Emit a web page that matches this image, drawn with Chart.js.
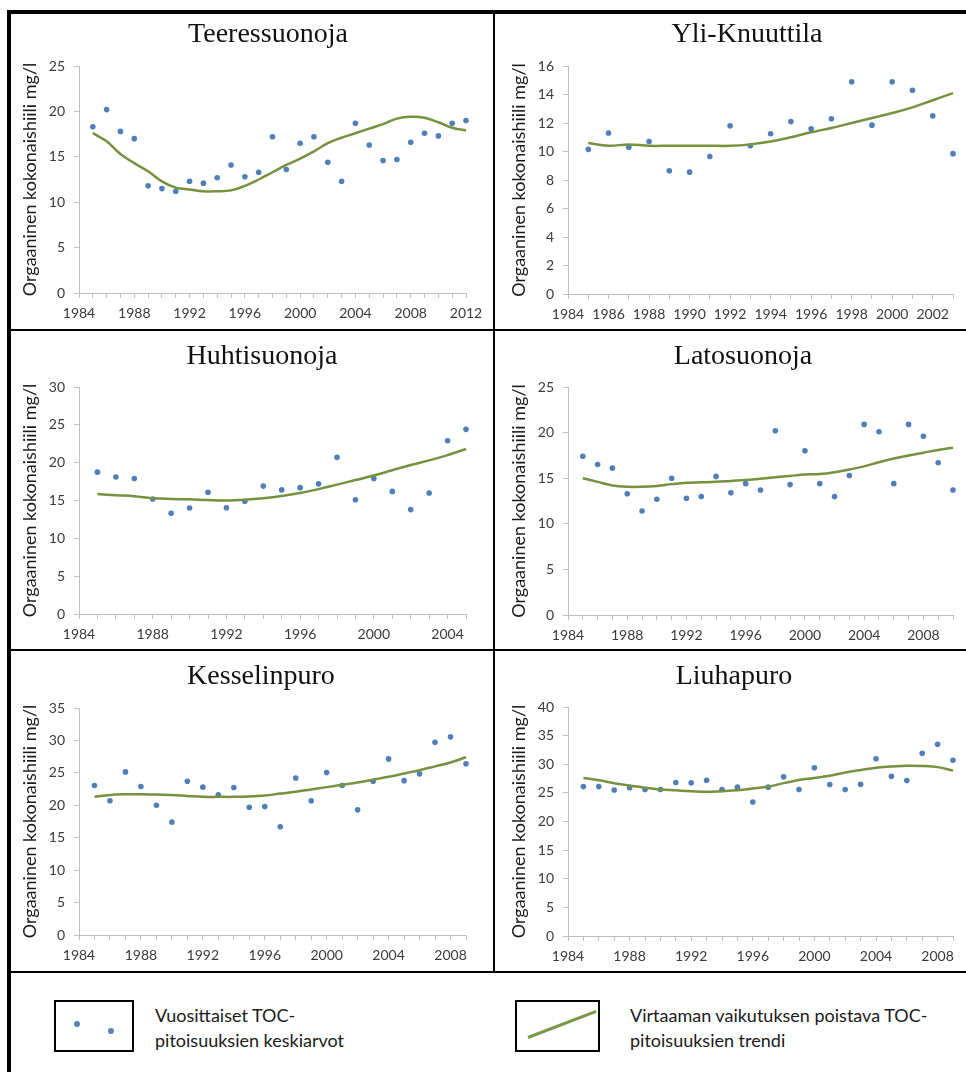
<!DOCTYPE html>
<html>
<head>
<meta charset="utf-8">
<script src="https://cdn.jsdelivr.net/npm/chart.js@4.4.0/dist/chart.umd.min.js"></script>
<style>
  body { margin: 0; background: #fff; }
  #page { position: relative; width: 966px; height: 1072px; overflow: hidden; background: #fff; font-family: Lato, "Open Sans", sans-serif; }
  canvas { position: absolute; }
  .title { position: absolute; transform: translate(-50%, -50%); white-space: nowrap; font-family: "Liberation Serif", "DejaVu Serif", serif; font-size: 28px; color: #111; }
  .rule { position: absolute; background: #000; z-index: 2; }
  .box { position: absolute; border: 2px solid #000; box-sizing: border-box; }
  .dot { position: absolute; width: 6px; height: 6px; border-radius: 50%; background: #5b82b3; }
  .stroke { position: absolute; height: 3px; background: #7b9848; transform-origin: 0 50%; }
  .legtext { position: absolute; font-size: 18px; line-height: 25px; color: #1a1a1a; }
</style>
</head>
<body>
<div id="page">
  <div class="rule" style="left:7px;top:10px;width:959px;height:4px"></div>
  <div class="rule" style="left:7px;top:10px;width:4px;height:1062px"></div>
  <div class="rule" style="left:493px;top:12px;width:2px;height:960px"></div>
  <div class="rule" style="left:7px;top:329px;width:959px;height:2px"></div>
  <div class="rule" style="left:7px;top:649px;width:959px;height:2px"></div>
  <div class="rule" style="left:7px;top:971px;width:959px;height:2px"></div>

  <canvas id="c1" width="481" height="316" style="left:12px;top:13px"></canvas>
  <canvas id="c2" width="470" height="316" style="left:496px;top:13px"></canvas>
  <canvas id="c3" width="481" height="318" style="left:12px;top:331px"></canvas>
  <canvas id="c4" width="470" height="318" style="left:496px;top:331px"></canvas>
  <canvas id="c5" width="481" height="320" style="left:12px;top:651px"></canvas>
  <canvas id="c6" width="470" height="320" style="left:496px;top:651px"></canvas>

  <div class="title" style="left:268px;top:33px">Teeressuonoja</div>
  <div class="title" style="left:747px;top:33px">Yli-Knuuttila</div>
  <div class="title" style="left:262px;top:355px">Huhtisuonoja</div>
  <div class="title" style="left:743px;top:355px">Latosuonoja</div>
  <div class="title" style="left:261px;top:675px">Kesselinpuro</div>
  <div class="title" style="left:734px;top:675px">Liuhapuro</div>

  <div class="box" style="left:54px;top:1000px;width:80px;height:52px">
    <div class="dot" style="left:18px;top:19px"></div>
    <div class="dot" style="left:52px;top:26px"></div>
  </div>
  <div class="legtext" style="left:155px;top:1003px">Vuosittaiset TOC-<br>pitoisuuksien keskiarvot</div>
  <div class="box" style="left:515px;top:1000px;width:85px;height:52px">
    <div class="stroke" style="left:11px;top:34px;width:73px;transform:rotate(-21deg)"></div>
  </div>
  <div class="legtext" style="left:630px;top:1003px">Virtaaman vaikutuksen poistava TOC-<br>pitoisuuksien trendi</div>
</div>

<script>
// Teeressuonoja
const teerYears = [1985, 1986, 1987, 1988, 1989, 1990, 1991, 1992, 1993, 1994, 1995, 1996, 1997, 1998, 1999, 2000, 2001, 2002, 2003, 2004, 2005, 2006, 2007, 2008, 2009, 2010, 2011, 2012];
const teerMeans = [18.3, 20.2, 17.8, 17.0, 11.8, 11.5, 11.2, 12.3, 12.1, 12.7, 14.1, 12.8, 13.3, 17.2, 13.6, 16.5, 17.2, 14.4, 12.3, 18.7, 16.3, 14.6, 14.7, 16.6, 17.6, 17.3, 18.7, 19.0];
const teerTrend = [17.6, 16.7, 15.3, 14.3, 13.4, 12.3, 11.6, 11.4, 11.2, 11.2, 11.3, 11.8, 12.5, 13.3, 14.1, 14.8, 15.6, 16.5, 17.1, 17.6, 18.1, 18.6, 19.2, 19.4, 19.3, 18.8, 18.2, 17.9];

// Yli-Knuuttila
const yliYears = [1985, 1986, 1987, 1988, 1989, 1990, 1991, 1992, 1993, 1994, 1995, 1996, 1997, 1998, 1999, 2000, 2001, 2002, 2003];
const yliMeans = [10.15, 11.3, 10.3, 10.7, 8.65, 8.55, 9.65, 11.8, 10.4, 11.25, 12.1, 11.6, 12.3, 14.9, 11.85, 14.9, 14.3, 12.5, 9.85];
const yliTrend = [10.6, 10.4, 10.5, 10.4, 10.4, 10.4, 10.4, 10.4, 10.5, 10.7, 11.0, 11.35, 11.65, 12.0, 12.35, 12.7, 13.1, 13.6, 14.1];

// Huhtisuonoja
const huhYears = [1985, 1986, 1987, 1988, 1989, 1990, 1991, 1992, 1993, 1994, 1995, 1996, 1997, 1998, 1999, 2000, 2001, 2002, 2003, 2004, 2005];
const huhMeans = [18.75, 18.1, 17.9, 15.2, 13.3, 14.0, 16.1, 14.05, 14.9, 16.9, 16.4, 16.7, 17.2, 20.7, 15.1, 17.9, 16.2, 13.8, 16.0, 22.9, 24.4];
const huhTrend = [15.85, 15.7, 15.55, 15.3, 15.2, 15.15, 15.05, 15.0, 15.1, 15.3, 15.6, 16.0, 16.5, 17.1, 17.7, 18.3, 19.0, 19.7, 20.3, 21.0, 21.8];

// Latosuonoja
const latoYears = [1985, 1986, 1987, 1988, 1989, 1990, 1991, 1992, 1993, 1994, 1995, 1996, 1997, 1998, 1999, 2000, 2001, 2002, 2003, 2004, 2005, 2006, 2007, 2008, 2009, 2010];
const latoMeans = [17.4, 16.5, 16.1, 13.3, 11.4, 12.7, 15.0, 12.8, 13.0, 15.2, 13.4, 14.4, 13.7, 20.2, 14.3, 18.0, 14.4, 13.0, 15.3, 20.9, 20.1, 14.4, 20.9, 19.6, 16.7, 13.7];
const latoTrend = [15.0, 14.6, 14.2, 14.05, 14.05, 14.15, 14.35, 14.5, 14.55, 14.6, 14.7, 14.8, 14.95, 15.1, 15.25, 15.4, 15.45, 15.65, 15.95, 16.3, 16.75, 17.15, 17.5, 17.8, 18.1, 18.35];

// Kesselinpuro
const kessYears = [1985, 1986, 1987, 1988, 1989, 1990, 1991, 1992, 1993, 1994, 1995, 1996, 1997, 1998, 1999, 2000, 2001, 2002, 2003, 2004, 2005, 2006, 2007, 2008, 2009];
const kessMeans = [23.05, 20.7, 25.15, 22.9, 20.0, 17.4, 23.7, 22.8, 21.6, 22.75, 19.7, 19.8, 16.7, 24.2, 20.7, 25.05, 23.05, 19.3, 23.7, 27.15, 23.8, 24.85, 29.7, 30.55, 26.4];
const kessTrend = [21.3, 21.6, 21.7, 21.7, 21.65, 21.6, 21.45, 21.3, 21.3, 21.3, 21.35, 21.5, 21.8, 22.1, 22.45, 22.8, 23.15, 23.5, 23.95, 24.4, 24.9, 25.4, 26.0, 26.6, 27.4];

// Liuhapuro
const liuYears = [1985, 1986, 1987, 1988, 1989, 1990, 1991, 1992, 1993, 1994, 1995, 1996, 1997, 1998, 1999, 2000, 2001, 2002, 2003, 2004, 2005, 2006, 2007, 2008, 2009];
const liuMeans = [26.1, 26.1, 25.5, 25.9, 25.6, 25.6, 26.8, 26.75, 27.2, 25.6, 26.0, 23.4, 26.0, 27.8, 25.6, 29.4, 26.45, 25.6, 26.5, 30.95, 27.9, 27.15, 31.9, 33.5, 30.7];
const liuTrend = [27.6, 27.2, 26.7, 26.3, 25.9, 25.6, 25.45, 25.3, 25.2, 25.3, 25.45, 25.75, 26.1, 26.7, 27.25, 27.6, 28.0, 28.55, 29.0, 29.4, 29.6, 29.75, 29.7, 29.5, 28.9];

const yTitle = "Orgaaninen kokonaishiili mg/l";
const axisGrey = "#bfbfbf";
const tickColor = "#3a3a3a";

const toPoints = (xs, ys) => xs.map((x, i) => ({ x: x, y: ys[i] }));

function makeChart(id, years, means, trend, cfg) {
  return new Chart(document.getElementById(id), {
    type: "scatter",
    data: {
      datasets: [
        {
          label: "trend",
          data: toPoints(years, trend),
          showLine: true,
          borderColor: "#76913f",
          borderWidth: 2.5,
          tension: 0.4,
          pointRadius: 0,
          clip: false
        },
        {
          label: "means",
          data: toPoints(years, means),
          backgroundColor: "#4f7fb8",
          borderWidth: 0,
          pointRadius: 2.8,
          clip: false
        }
      ]
    },
    options: {
      responsive: false,
      animation: false,
      layout: { padding: { left: 0, right: cfg.padRight, top: cfg.padTop, bottom: 0 } },
      plugins: { legend: { display: false }, tooltip: { enabled: false } },
      scales: {
        x: {
          type: "linear",
          min: 1984,
          max: cfg.xMax,
          afterFit: s => { s.height = cfg.bottom; },
          border: { color: axisGrey, width: 1 },
          grid: { display: true, drawOnChartArea: false, drawTicks: true, tickLength: 5, color: axisGrey },
          ticks: {
            stepSize: 1,
            autoSkip: false,
            maxRotation: 0,
            padding: 7,
            color: tickColor,
            font: { family: "Lato", size: 14 },
            callback: v => ((v - 1984) % cfg.labelStep === 0 ? String(v) : "")
          }
        },
        y: {
          min: 0,
          max: cfg.yMax,
          afterFit: s => { s.width = cfg.left; },
          border: { color: axisGrey, width: 1 },
          grid: { display: true, drawOnChartArea: false, drawTicks: true, tickLength: 5, color: axisGrey },
          ticks: {
            stepSize: cfg.yStep,
            padding: 9,
            color: tickColor,
            font: { family: "Lato", size: 14 },
            callback: v => String(v)
          },
          title: {
            display: true,
            text: yTitle,
            color: "#1a1a1a",
            font: { family: "Lato", size: 18 },
            padding: { top: cfg.titlePad, bottom: 0 }
          }
        }
      }
    }
  });
}

makeChart("c1", teerYears, teerMeans, teerTrend, { xMax: 2012, labelStep: 4, yMax: 25, yStep: 5, left: 67, padRight: 27, padTop: 53, bottom: 36, titlePad: 7 });
makeChart("c2", yliYears, yliMeans, yliTrend, { xMax: 2003, labelStep: 2, yMax: 16, yStep: 2, left: 72, padRight: 13, padTop: 53, bottom: 35, titlePad: 12 });
makeChart("c3", huhYears, huhMeans, huhTrend, { xMax: 2005, labelStep: 4, yMax: 30, yStep: 5, left: 67, padRight: 27, padTop: 56, bottom: 35, titlePad: 7 });
makeChart("c4", latoYears, latoMeans, latoTrend, { xMax: 2010, labelStep: 4, yMax: 25, yStep: 5, left: 72, padRight: 13, padTop: 56, bottom: 34, titlePad: 12 });
makeChart("c5", kessYears, kessMeans, kessTrend, { xMax: 2009, labelStep: 4, yMax: 35, yStep: 5, left: 67, padRight: 27, padTop: 57, bottom: 36, titlePad: 7 });
makeChart("c6", liuYears, liuMeans, liuTrend, { xMax: 2009, labelStep: 4, yMax: 40, yStep: 5, left: 72, padRight: 13, padTop: 56, bottom: 35, titlePad: 12 });
</script>
</body>
</html>
